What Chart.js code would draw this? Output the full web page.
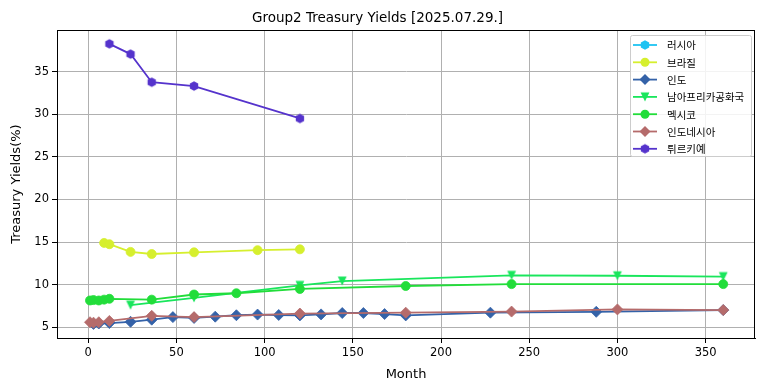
<!DOCTYPE html>
<html lang="ko">
<head>
<meta charset="UTF-8">
<title>Group2 Treasury Yields</title>
<style>
  html, body { margin: 0; padding: 0; background: #fff; }
  #wrap { width: 764px; height: 391px; }
</style>
</head>
<body>
<div id="wrap"><canvas id="chart" width="764" height="391"></canvas></div>
<script src="https://cdn.jsdelivr.net/npm/chart.js@4.4.1/dist/chart.umd.min.js"></script>
<script>
// values
const countries = ["러시아", "브라질", "인도", "남아프리카공화국", "멕시코", "인도네시아", "튀르키예"];
const colors = ["#1ec3f2", "#d6ef2e", "#3462a8", "#19e65c", "#22dd3a", "#b56b6b", "#5533cc"];

const russiaMonths = [];
const russiaYields = [];
const brazilMonths = [9, 12, 24, 36, 60, 96, 120];
const brazilYields = [14.9, 14.75, 13.85, 13.6, 13.8, 14.05, 14.15];
const indiaMonths = [3, 6, 12, 24, 36, 48, 60, 72, 84, 96, 108, 120, 132, 144, 156, 168, 180, 228, 288, 360];
const indiaYields = [5.4, 5.45, 5.5, 5.65, 5.9, 6.2, 6.1, 6.25, 6.42, 6.5, 6.45, 6.4, 6.52, 6.68, 6.68, 6.56, 6.4, 6.72, 6.82, 7.02];
const safricaMonths = [24, 60, 120, 144, 240, 300, 360];
const safricaYields = [7.6, 8.45, 9.92, 10.43, 11.1, 11.05, 10.95];
const mexicoMonths = [1, 3, 6, 9, 12, 36, 60, 84, 120, 180, 240, 360];
const mexicoYields = [8.15, 8.2, 8.15, 8.25, 8.35, 8.25, 8.85, 9.0, 9.5, 9.85, 10.07, 10.07];
const indonesiaMonths = [1, 3, 6, 12, 36, 60, 120, 180, 240, 300, 360];
const indonesiaYields = [5.6, 5.55, 5.6, 5.75, 6.35, 6.2, 6.62, 6.72, 6.85, 7.1, 7.03];
const turkeyMonths = [12, 24, 36, 60, 120];
const turkeyYields = [38.25, 37.05, 33.75, 33.3, 29.5];

const xTicks = [0, 50, 100, 150, 200, 250, 300, 350];
const yTicks = [5, 10, 15, 20, 25, 30, 35];

const monthSets = [russiaMonths, brazilMonths, indiaMonths, safricaMonths, mexicoMonths, indonesiaMonths, turkeyMonths];
const yieldSets = [russiaYields, brazilYields, indiaYields, safricaYields, mexicoYields, indonesiaYields, turkeyYields];

function markerCanvas(kind, color) {
  const c = document.createElement("canvas");
  c.width = 12; c.height = 12;
  const ctx = c.getContext("2d");
  ctx.fillStyle = color;
  ctx.beginPath();
  if (kind === "hex") {
    for (let k = 0; k < 6; k++) {
      const a = Math.PI / 2 + k * Math.PI / 3;
      const px = 6 + 4.8 * Math.cos(a), py = 6 - 4.8 * Math.sin(a);
      k ? ctx.lineTo(px, py) : ctx.moveTo(px, py);
    }
  } else {
    // triangle pointing down
    ctx.moveTo(6, 10.4);
    ctx.lineTo(1.6, 1.6);
    ctx.lineTo(10.4, 1.6);
  }
  ctx.closePath();
  ctx.fill();
  return c;
}

const styles = [
  markerCanvas("hex", colors[0]),
  "circle",
  "rectRot",
  markerCanvas("tri", colors[3]),
  "circle",
  "rectRot",
  markerCanvas("hex", colors[6])
];
const radii = [5, 4.5, 5.5, 5, 4.5, 5.5, 5];

const datasets = countries.map((name, i) => ({
  label: name,
  data: monthSets[i].map((m, j) => ({ x: m, y: yieldSets[i][j] })),
  borderColor: colors[i],
  backgroundColor: colors[i],
  pointBorderColor: colors[i],
  pointBackgroundColor: colors[i],
  pointStyle: styles[i],
  pointRadius: radii[i],
  pointBorderWidth: 0.8,
  borderWidth: 1.8,
  showLine: true,
  tension: 0,
  order: -i
}));

const frameAndLegend = {
  id: "frameAndLegend",
  afterDraw(chart) {
    const ctx = chart.ctx;
    const a = chart.chartArea;
    ctx.save();
    ctx.strokeStyle = "#000";
    ctx.lineWidth = 1;
    ctx.strokeRect(Math.round(a.left) + 0.5, Math.round(a.top) + 0.5, Math.round(a.right - a.left) - 1, Math.round(a.bottom - a.top));

    // legend box in upper right
    const bx = 630.5, by = 35.5, bw = 121, bh = 121;
    ctx.fillStyle = "rgba(255,255,255,0.85)";
    ctx.strokeStyle = "#cccccc";
    ctx.beginPath();
    ctx.roundRect(bx, by, bw, bh, 2);
    ctx.fill();
    ctx.stroke();
    ctx.font = "10.5px 'Noto Sans CJK KR', 'DejaVu Sans', sans-serif";
    ctx.textBaseline = "middle";
    countries.forEach((name, i) => {
      const y = 45 + i * 17.3;
      ctx.strokeStyle = colors[i];
      ctx.lineWidth = 1.8;
      ctx.beginPath();
      ctx.moveTo(633, y);
      ctx.lineTo(657, y);
      ctx.stroke();
      const st = styles[i];
      ctx.fillStyle = colors[i];
      if (typeof st !== "string") {
        ctx.drawImage(st, 645 - 6, y - 6);
      } else if (st === "circle") {
        ctx.beginPath();
        ctx.arc(645, y, 4.5, 0, Math.PI * 2);
        ctx.fill();
      } else {
        ctx.beginPath();
        ctx.moveTo(645, y - 5.5);
        ctx.lineTo(650.5, y);
        ctx.lineTo(645, y + 5.5);
        ctx.lineTo(639.5, y);
        ctx.closePath();
        ctx.fill();
      }
      ctx.fillStyle = "#000";
      ctx.fillText(name, 667, y + 0.5);
    });
    ctx.restore();
  }
};

new Chart(document.getElementById("chart"), {
  type: "scatter",
  data: { datasets },
  options: {
    responsive: false,
    animation: false,
    events: [],
    layout: { padding: { left: 0, right: 9, top: 0, bottom: 0 } },
    font: { family: "'DejaVu Sans', sans-serif" },
    plugins: {
      legend: { display: false },
      tooltip: { enabled: false },
      title: {
        display: true,
        text: "Group2 Treasury Yields [2025.07.29.]",
        color: "#000",
        font: { family: "'DejaVu Sans', sans-serif", size: 13.5, weight: "normal" },
        padding: { top: 10, bottom: 4 }
      }
    },
    scales: {
      x: {
        type: "linear",
        min: -17.7,
        max: 378,
        afterBuildTicks: s => { s.ticks = xTicks.map(v => ({ value: v })); },
        afterFit: s => { s.height = 53; },
        ticks: {
          color: "#000",
          padding: 3,
          maxRotation: 0,
          font: { family: "'DejaVu Sans', sans-serif", size: 11.5 }
        },
        grid: { color: "#b0b0b0", lineWidth: 1, tickLength: 5, tickColor: "#000" },
        border: { color: "#000", width: 1 },
        title: {
          display: true,
          text: "Month",
          color: "#000",
          font: { family: "'DejaVu Sans', sans-serif", size: 13 },
          padding: { top: 0, bottom: 9 }
        }
      },
      y: {
        type: "linear",
        min: 3.75,
        max: 39.85,
        afterBuildTicks: s => { s.ticks = yTicks.map(v => ({ value: v })); },
        afterFit: s => { s.width = 57; },
        ticks: {
          color: "#000",
          padding: 3,
          font: { family: "'DejaVu Sans', sans-serif", size: 11.5 }
        },
        grid: { color: "#b0b0b0", lineWidth: 1, tickLength: 5, tickColor: "#000" },
        border: { color: "#000", width: 1 },
        title: {
          display: true,
          text: "Treasury Yields(%)",
          color: "#000",
          font: { family: "'DejaVu Sans', sans-serif", size: 13 },
          padding: { top: 9, bottom: 0 }
        }
      }
    }
  },
  plugins: [frameAndLegend]
});
</script>
</body>
</html>
